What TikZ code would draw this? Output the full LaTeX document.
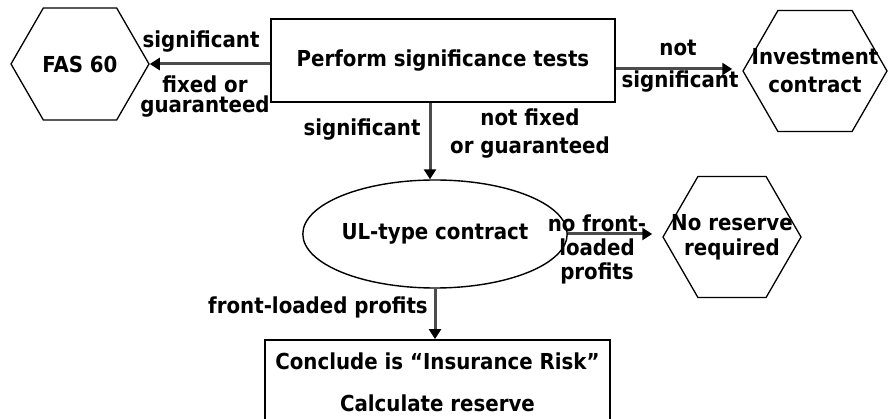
\documentclass[tikz,border=0pt]{standalone}
\usepackage{fontspec}
\setmainfont{DejaVu Sans Condensed}
\usetikzlibrary{shapes.geometric,shapes.symbols,arrows.meta}
\begin{document}
\begin{tikzpicture}[x=1pt,y=-1pt,
  every node/.style={font=\bfseries\fontsize{22}{26}\selectfont, inner sep=0pt},
  hexa/.style={draw, line width=1.3pt, signal, signal to=west and east, signal pointer angle=120},
  boxn/.style={draw, line width=1.8pt, rectangle, align=center},
  ell/.style={draw, line width=1.4pt, ellipse},
  arr/.style={line width=3pt, draw=black!70, -{Triangle[length=10pt,width=12pt,black]}},
  lbl/.style={align=center}]
\useasboundingbox (0,0) rectangle (888,419);
\clip (0,0) rectangle (888,419);
% hexagons (outline) and their texts
\node[hexa, minimum width=138, minimum height=112] (fas) at (80,64) {};
\node (fast) at (fas.center) {FAS 60};
\node[hexa, minimum width=144, minimum height=121] (inv) at (815,71) {};
\node[lbl, font=\bfseries\fontsize{22}{28}\selectfont] (invt) at (inv.center) {Investment\\contract};
\node[hexa, minimum width=138, minimum height=121] (nores) at (732,237) {};
\node[lbl, font=\bfseries\fontsize{22}{25}\selectfont] (norest) at (nores.center) {No reserve\\required};
% boxes and ellipse
\node[boxn, minimum width=344, minimum height=83] (perf) at (443,60.5) {Perform significance tests};
\node[ell, minimum width=210, minimum height=108] (ul) at (435,234) {UL-type contract};
\node[boxn, minimum width=345, minimum height=84, font=\bfseries\fontsize{22}{42}\selectfont] (concl) at (437.5,382) {Conclude is \textquotedblleft Insurance Risk\textquotedblright\\Calculate reserve};

% connectors
\draw[arr] (perf.west |- fas.east) -- (fas.east);
\draw[arr, shorten >=10pt] ([yshift=2pt]perf.east |- inv.west) -- ([yshift=2pt]inv.west);
\draw[arr] ([xshift=-5pt]ul.north |- perf.south) -- ([xshift=-5pt]ul.north);
\draw[arr, shorten >=10pt] (ul.east) -- (ul.east -| nores.west);
\draw[arr] (ul.south) -- (ul.south |- concl.north);

% connector labels
\node (l1) at (201,42) {significant};
\node[lbl, font=\bfseries\fontsize{22}{20}\selectfont] (l2) at (205,97) {fixed or\\guaranteed};
\node (l3) at (678,48) {not};
\node (l4) at (680,82) {significant};
\node (l5) at (362,130) {significant};
\node[lbl, font=\bfseries\fontsize{22}{28}\selectfont] (l6) at (530,134) {not fixed\\or guaranteed};
\node[lbl, font=\bfseries\fontsize{22}{24}\selectfont] (l7) at (597,249) {no front-\\loaded\\profits};
\node[anchor=east] (l8) at (428,307) {front-loaded profits};
\end{tikzpicture}
\end{document}
